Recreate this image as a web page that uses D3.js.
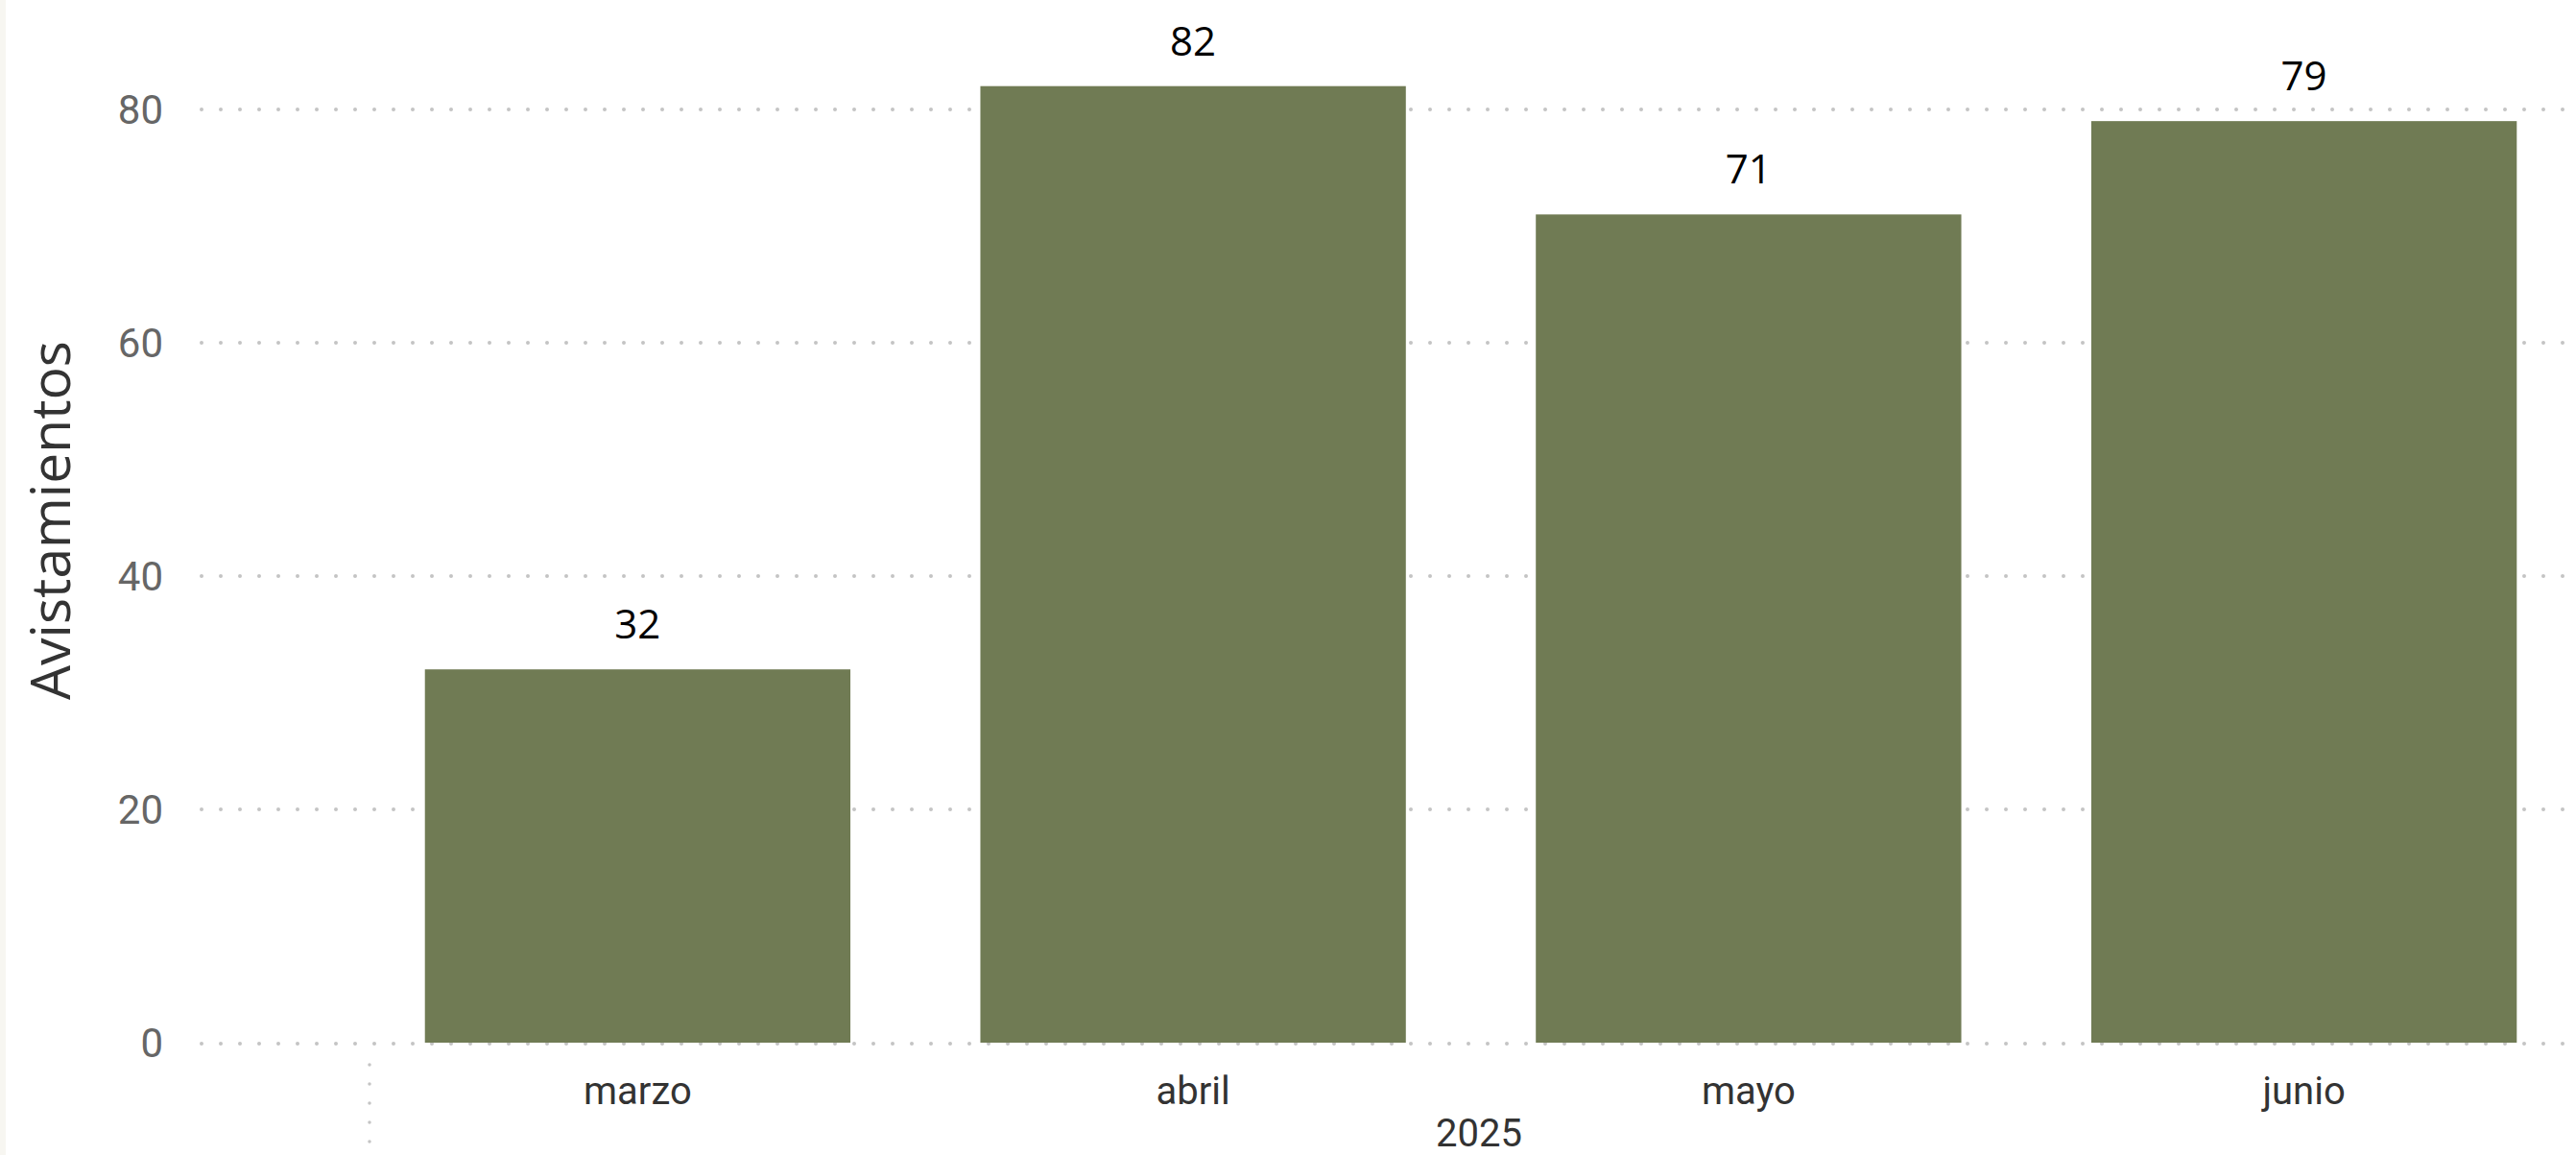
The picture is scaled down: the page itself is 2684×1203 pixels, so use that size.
<!DOCTYPE html>
<html>
<head>
<meta charset="utf-8">
<script src="https://cdn.jsdelivr.net/npm/d3@7/dist/d3.min.js"></script>
<style>
  html, body { margin: 0; padding: 0; background: #ffffff; }
  svg { display: block; }
</style>
</head>
<body>
<svg id="chart" width="2684" height="1203"></svg>
<script>
const months = ["marzo", "abril", "mayo", "junio"];
const values = [32, 82, 71, 79];
const yTicks = [0, 20, 40, 60, 80];
const yearLabel = "2025";
const yTitle = "Avistamientos";

const W = 2684, H = 1203;
const svg = d3.select("#chart");

// left strip
svg.append("rect").attr("x", 0).attr("y", 0).attr("width", 6).attr("height", H).attr("fill", "#f7f6f1");

const x = d3.scaleBand().domain(months).range([375, 2690]).paddingInner(0.234).paddingOuter(0.117);
const y = d3.scaleLinear().domain([0, 80]).range([1086, 114]);

// gridlines
const grid = svg.append("g");
grid.selectAll("line").data(yTicks).join("line")
  .attr("x1", 210).attr("x2", W)
  .attr("y1", d => y(d) + (d === 0 ? 1 : 0)).attr("y2", d => y(d) + (d === 0 ? 1 : 0))
  .attr("stroke", "#c4c4c4").attr("stroke-width", 4)
  .attr("stroke-linecap", "round").attr("stroke-dasharray", "0 20");

// y tick labels
svg.append("g").selectAll("text").data(yTicks).join("text")
  .attr("x", 170).attr("y", d => y(d))
  .attr("text-anchor", "end").attr("dominant-baseline", "central")
  .attr("font-family", "Roboto, sans-serif").attr("font-size", 42)
  .attr("fill", "#666666")
  .text(d => d);

// bars
svg.append("g").selectAll("rect").data(months).join("rect")
  .attr("x", d => x(d)).attr("width", x.bandwidth())
  .attr("y", (d, i) => y(values[i])).attr("height", (d, i) => y(0) - y(values[i]))
  .attr("fill", "#707b54");

// data labels
svg.append("g").selectAll("text").data(months).join("text")
  .attr("x", d => x(d) + x.bandwidth() / 2)
  .attr("y", (d, i) => y(values[i]) - 32)
  .attr("text-anchor", "middle")
  .attr("font-family", "'Open Sans', sans-serif").attr("font-size", 42)
  .attr("fill", "#000000")
  .text((d, i) => values[i]);

// category labels
svg.append("g").selectAll("text").data(months).join("text")
  .attr("x", d => x(d) + x.bandwidth() / 2)
  .attr("y", 1150)
  .attr("text-anchor", "middle")
  .attr("font-family", "Roboto, sans-serif").attr("font-size", 40)
  .attr("fill", "#333333")
  .text(d => d);

// hierarchy divider
svg.append("line")
  .attr("x1", 385).attr("x2", 385).attr("y1", 1109).attr("y2", 1195)
  .attr("stroke", "#c4c4c4").attr("stroke-width", 3.5)
  .attr("stroke-linecap", "round").attr("stroke-dasharray", "0 20");

// year label
svg.append("text")
  .attr("x", 1541).attr("y", 1194)
  .attr("text-anchor", "middle")
  .attr("font-family", "Roboto, sans-serif").attr("font-size", 40)
  .attr("fill", "#333333")
  .text(yearLabel);

// y title
svg.append("text")
  .attr("transform", "translate(73,542) rotate(-90)")
  .attr("text-anchor", "middle")
  .attr("font-family", "'Open Sans', sans-serif").attr("font-size", 57)
  .attr("fill", "#333333")
  .text(yTitle);
</script>
</body>
</html>
